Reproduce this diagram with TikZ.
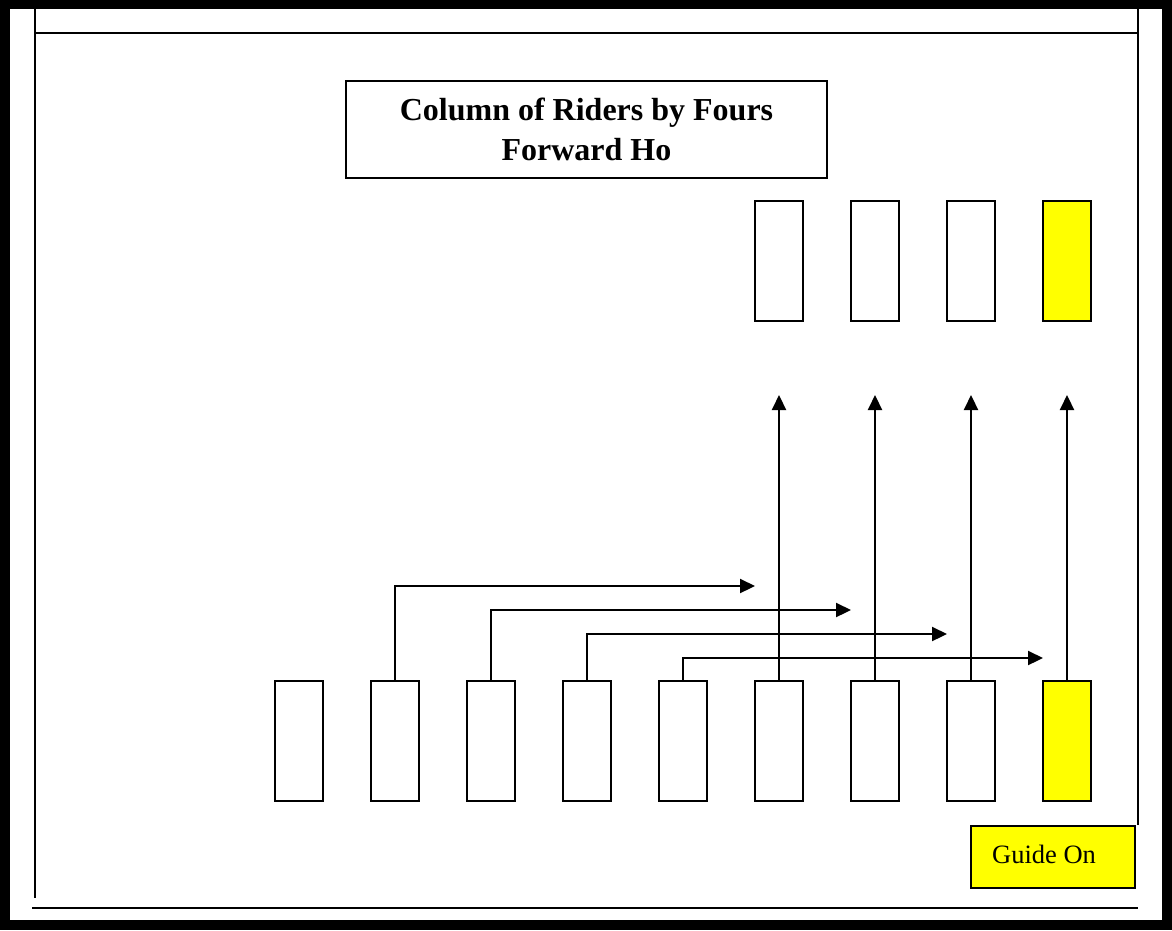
\documentclass[tikz,border=0pt]{standalone}
\usepackage{fontspec}
\setmainfont{Liberation Serif}
\usetikzlibrary{arrows.meta}
\definecolor{gyellow}{RGB}{255,255,0}
\begin{document}
\begin{tikzpicture}[x=1pt,y=-1pt,line width=2.4pt,
  rider/.style={draw,fill=white,minimum width=48pt,minimum height=120pt,inner sep=0pt,line width=2.2pt},
  guide/.style={rider,fill=gyellow},
  arr/.style={-{Triangle[length=15pt,width=14pt]},line width=2.2pt},
  lbl/.style={draw,line width=2.2pt,inner sep=0pt}]
\useasboundingbox (0,0) rectangle (1172,930);
\fill[black] (0,0) rectangle (1172,930);
\fill[white] (10,9) rectangle (1162,920);
% frame lines
\coordinate (tl) at (35,9);
\coordinate (bl) at (35,898);
\coordinate (tr) at (1138,9);
\coordinate (br) at (1138,825);
\coordinate (hl) at (35,33);
\coordinate (hr) at (1138,33);
\coordinate (fl) at (32,908);
\coordinate (fr) at (1138,908);
\draw (tl) -- (bl);
\draw (tr) -- (br);
\draw (hl) -- (hr);
\draw (fl) -- (fr);
% title
\node[lbl,minimum width=481pt,minimum height=97pt,align=center,font=\fontsize{32}{40}\selectfont\bfseries] (title) at (586.5,129.5) {Column of Riders by Fours\\Forward Ho};
% bottom row
\foreach \i/\x in {1/299,2/395,3/491,4/587,5/683,6/779,7/875,8/971}{
  \node[rider] (b\i) at (\x,741) {};
}
\node[guide] (b9) at (1067,741) {};
% top row
\node[rider] (t1) at (779,261) {};
\node[rider] (t2) at (875,261) {};
\node[rider] (t3) at (971,261) {};
\node[guide] (t4) at (1067,261) {};
% vertical arrows
\coordinate (v1) at (779,395);
\coordinate (v2) at (875,395);
\coordinate (v3) at (971,395);
\coordinate (v4) at (1067,395);
\draw[arr] (b6.north) -- (v1);
\draw[arr] (b7.north) -- (v2);
\draw[arr] (b8.north) -- (v3);
\draw[arr] (b9.north) -- (v4);
% horizontal arrows
\coordinate (h1) at (755,586);
\coordinate (h2) at (851,610);
\coordinate (h3) at (947,634);
\coordinate (h4) at (1043,658);
\draw[arr] (b2.north) |- (h1);
\draw[arr] (b3.north) |- (h2);
\draw[arr] (b4.north) |- (h3);
\draw[arr] (b5.north) |- (h4);
% guide label
\node[lbl,fill=gyellow,minimum width=164pt,minimum height=62pt] (gl) at (1053,857) {};
\node[anchor=west,inner sep=0pt,font=\fontsize{26.5}{30}\selectfont] (gt) at (991,854) {Guide On};
\end{tikzpicture}
\end{document}
